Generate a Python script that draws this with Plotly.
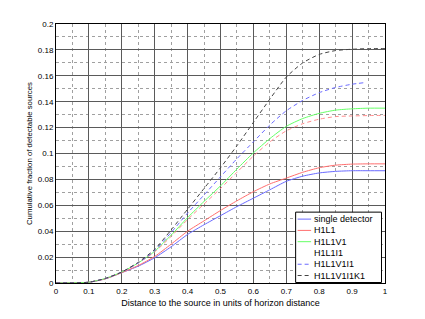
import plotly.graph_objects as go

x = [0, 0.05, 0.1, 0.15, 0.2, 0.25, 0.3, 0.35, 0.4, 0.45, 0.5, 0.55, 0.6, 0.65, 0.7, 0.75, 0.8, 0.85, 0.9, 0.95, 1.0]

single_detector = [0, 0.0001, 0.0006, 0.0032, 0.008, 0.013, 0.0195, 0.028, 0.0375, 0.045, 0.052, 0.059, 0.0655,
                   0.072, 0.0785, 0.0825, 0.085, 0.0862, 0.0867, 0.0867, 0.0867]
h1l1 = [0, 0.0001, 0.0006, 0.0032, 0.008, 0.0135, 0.0205, 0.030, 0.040, 0.048, 0.056, 0.0635, 0.0705,
        0.0765, 0.081, 0.0855, 0.089, 0.091, 0.0918, 0.092, 0.092]
h1l1v1 = [0, 0.0001, 0.0006, 0.0035, 0.0085, 0.0155, 0.0245, 0.037, 0.0505, 0.063, 0.075, 0.088, 0.1005,
          0.1115, 0.121, 0.127, 0.131, 0.1335, 0.1345, 0.135, 0.135]
h1l1i1 = [0, 0.0001, 0.0006, 0.0035, 0.0085, 0.0155, 0.024, 0.036, 0.049, 0.061, 0.073, 0.0855, 0.098,
          0.109, 0.1175, 0.123, 0.1265, 0.1285, 0.129, 0.1293, 0.1294]
x_v1i1 = [0, 0.05, 0.1, 0.15, 0.2, 0.25, 0.3, 0.35, 0.4, 0.45, 0.5, 0.55, 0.6, 0.65, 0.7, 0.75, 0.8, 0.85, 0.9, 0.934]
h1l1v1i1 = [0, 0.0001, 0.0006, 0.0035, 0.0085, 0.0155, 0.025, 0.039, 0.054, 0.068, 0.082, 0.096, 0.109,
            0.122, 0.133, 0.141, 0.147, 0.151, 0.1535, 0.1546]
h1l1v1i1k1 = [0, 0.0001, 0.0006, 0.0035, 0.0085, 0.016, 0.026, 0.041, 0.057, 0.073, 0.089, 0.106, 0.124,
              0.142, 0.159, 0.170, 0.1765, 0.1795, 0.1805, 0.181, 0.181]

x_ticks = [0, 0.1, 0.2, 0.3, 0.4, 0.5, 0.6, 0.7, 0.8, 0.9, 1]
x_tick_labels = ["0", "0.1", "0.2", "0.3", "0.4", "0.5", "0.6", "0.7", "0.8", "0.9", "1"]
y_ticks = [0, 0.02, 0.04, 0.06, 0.08, 0.1, 0.12, 0.14, 0.16, 0.18, 0.2]
y_tick_labels = ["0", "0.02", "0.04", "0.06", "0.08", "0.1", "0.12", "0.14", "0.16", "0.18", "0.2"]

legend_names = ["single detector", "H1L1", "H1L1V1", "H1L1I1", "H1L1V1I1", "H1L1V1I1K1"]

FONT = "Liberation Sans, Arial, sans-serif"
DASH = "4px,3px"

BLUE = "#6a6aff"
RED = "#ff6e6e"
GREEN = "#66ff66"
PINK = "#ff8c8c"
DARK = "#444444"

legend_colors = [BLUE, RED, GREEN, "rgba(0,0,0,0)", BLUE, DARK]
legend_dashes = ["solid", "solid", "solid", "solid", DASH, DASH]

fig = go.Figure()

def add(xs, ys, name, color, dash=None):
    fig.add_trace(go.Scatter(
        x=xs, y=ys, mode="lines", name=name, showlegend=False,
        line=dict(color=color, width=1, dash=dash, shape="spline", smoothing=0.6),
    ))

add(x, single_detector, "single detector", BLUE)
add(x, h1l1, "H1L1", RED)
add(x, h1l1v1, "H1L1V1", GREEN)
add(x, h1l1i1, "H1L1I1", PINK, dash=DASH)
add(x_v1i1, h1l1v1i1, "H1L1V1I1", BLUE, dash=DASH)
add(x, h1l1v1i1k1, "H1L1V1I1K1", DARK, dash=DASH)

axis_common = dict(
    showline=True, linecolor="#000", linewidth=1, mirror=True,
    showgrid=True, gridcolor="#5a5a5a", gridwidth=1,
    ticks="", zeroline=False,
    tickfont=dict(family=FONT, size=8, color="#000"),
)

fig.update_xaxes(
    range=[0, 1], tickvals=x_ticks, ticktext=x_tick_labels,
    minor=dict(dtick=0.05, tick0=0, showgrid=True, gridcolor="#a0a0a0", griddash="dot", gridwidth=1),
    title=dict(text="Distance to the source in units of horizon distance",
               font=dict(family=FONT, size=9, color="#000"), standoff=5),
    **axis_common,
)
fig.update_yaxes(
    range=[0, 0.2], tickvals=y_ticks, ticktext=y_tick_labels,
    minor=dict(dtick=0.01, tick0=0, showgrid=True, gridcolor="#a0a0a0", griddash="dot", gridwidth=1),
    title=dict(text="Cumulative fraction of detectable sources",
               font=dict(family=FONT, size=7.8, color="#000"), standoff=4),
    **axis_common,
)

# manual legend (box, line samples, labels) in paper coordinates
PX0, PW, PY0, PH = 55.5, 329.5, 283.5, 259.5
def px(v):
    return (v - PX0) / PW
def py(v):
    return (PY0 - v) / PH

shapes = [dict(type="rect", xref="paper", yref="paper",
               x0=px(295.5), x1=px(381.5), y0=py(283.0), y1=py(212.5),
               fillcolor="white", line=dict(color="#000", width=1), layer="above")]
annotations = []
for i, (name, col, dsh) in enumerate(zip(legend_names, legend_colors, legend_dashes)):
    yc = 219.5 + i * 11.3
    shapes.append(dict(type="line", xref="paper", yref="paper",
                       x0=px(297.5), x1=px(311.0), y0=py(yc), y1=py(yc),
                       line=dict(color=col, width=1, dash=dsh), layer="above"))
    annotations.append(dict(xref="paper", yref="paper", x=px(312.0), y=py(yc),
                            xanchor="left", yanchor="middle", text=name, showarrow=False,
                            font=dict(family=FONT, size=9, color="#000")))

fig.update_layout(
    width=417, height=311,
    margin=dict(l=47.5, r=40, t=16, b=35.5),
    paper_bgcolor="white", plot_bgcolor="white",
    font=dict(family=FONT, size=10, color="#000"),
    showlegend=False,
    shapes=shapes, annotations=annotations,
)

fig.write_html("out.html")
